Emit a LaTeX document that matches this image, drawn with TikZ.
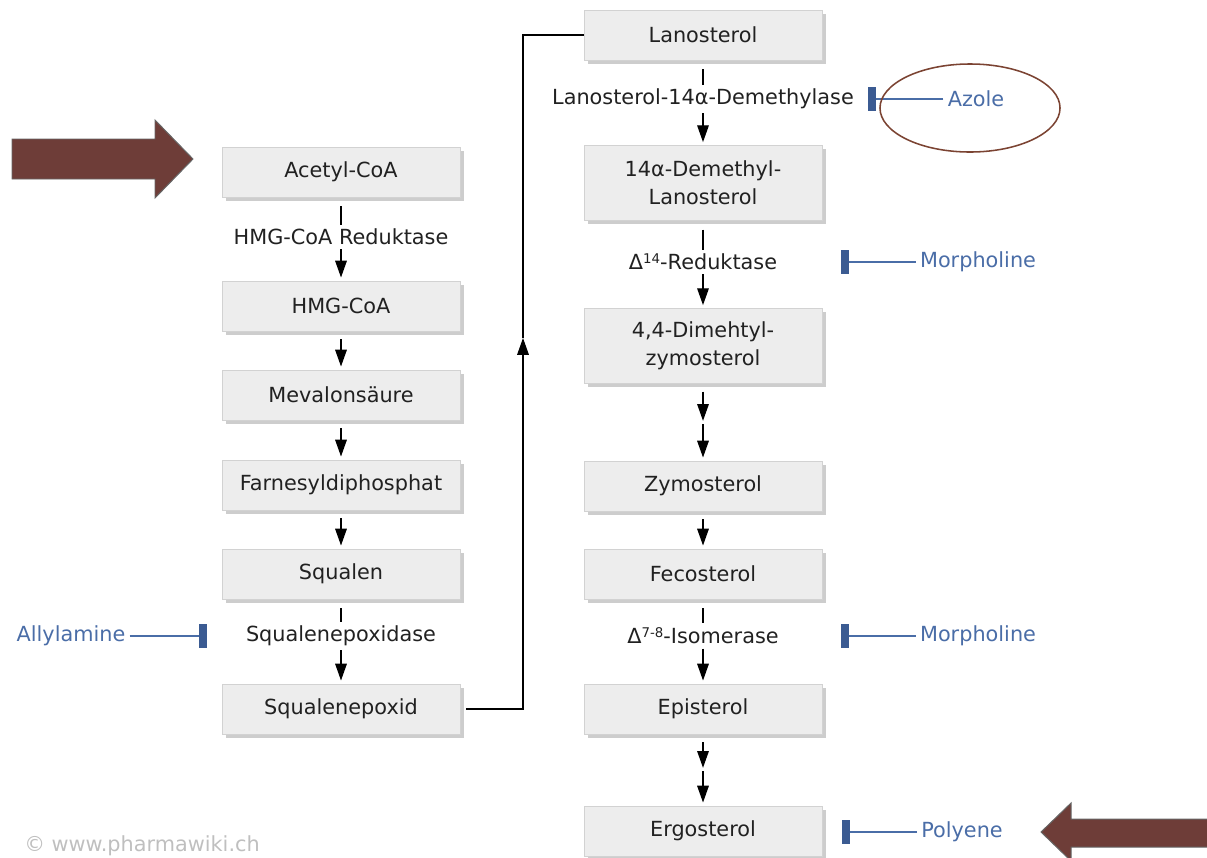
\documentclass[tikz,border=0pt]{standalone}
\usepackage{fontspec}
\setmainfont{DejaVu Sans}
\usepackage{xcolor}
\usetikzlibrary{arrows.meta,shadows}
\definecolor{stoffgrau}{HTML}{EDEDED}
\definecolor{rahmen}{HTML}{D2D2D2}
\definecolor{schatten}{HTML}{CDCDCD}
\definecolor{hemmblau}{HTML}{4A6DA7}
\definecolor{balkenblau}{HTML}{3B5B92}
\definecolor{pfeilbraun}{HTML}{6E3D38}
\definecolor{ringbraun}{HTML}{7B4332}
\newcommand{\hoch}[1]{\raisebox{0.55ex}{\fontsize{9.5}{10}\selectfont #1}}

\begin{document}
\begin{tikzpicture}[x=0.025cm,y=-0.025cm,font=\fontsize{14.8}{20}\selectfont,
  stoff/.style={draw=rahmen,fill=stoffgrau,text=black!87,minimum width=5.95cm,
    minimum height=1.25cm,inner sep=0pt,align=center,
    drop shadow={shadow xshift=0.09cm,shadow yshift=-0.09cm,fill=schatten,opacity=1}},
  enzym/.style={text=black!87,inner sep=0.1cm},
  hemmer/.style={text=hemmblau,inner sep=0.1cm},
  balken/.style={fill=balkenblau,minimum width=0.18cm,minimum height=0.62cm,inner sep=0pt},
  linie/.style={line width=0.9pt,black},
  ab/.style={linie,shorten <=0.22cm},
  fluss/.style={linie,-{Triangle[width=0.29cm,length=0.42cm]},shorten >=0.08cm},
  schritt/.style={fluss,shorten <=0.2cm},
  hemm/.style={hemmblau,line width=0.75pt},
  pfeil/.style={fill=pfeilbraun,draw=black!60,line width=0.7pt}]
  \useasboundingbox (0,0) rectangle (1207,857);

  % linke Spalte
  \node[stoff] (acetyl) at (341,172) {Acetyl-CoA};
  \node[enzym] (hmgred) at (341,237) {HMG-CoA Reduktase};
  \node[stoff] (hmgcoa) at (341,306) {HMG-CoA};
  \node[stoff] (meval) at (341,395) {Mevalonsäure};
  \node[stoff] (farnes) at (341,485) {Farnesyldiphosphat};
  \node[stoff] (squal) at (341,574) {Squalen};
  \node[enzym] (sqepase) at (341,636) {Squalenepoxidase};
  \node[stoff] (sqepox) at (341,709) {Squalenepoxid};
  \draw[ab] (acetyl) -- (hmgred);
  \draw[fluss] (hmgred) -- (hmgcoa);
  \draw[schritt] (hmgcoa) -- (meval);
  \draw[schritt] (meval) -- (farnes);
  \draw[schritt] (farnes) -- (squal);
  \draw[ab] (squal) -- (sqepase);
  \draw[fluss] (sqepase) -- (sqepox);

  % rechte Spalte
  \node[stoff] (lano) at (703,35) {Lanosterol};
  \node[enzym] (demase) at (703,99) {Lanosterol-14α-Demethylase};
  \node[stoff,minimum height=1.87cm] (demlano) at (703,183) {14α-Demethyl-\\Lanosterol};
  \node[enzym] (redukt) at (703,262) {Δ\hoch{14}-Reduktase};
  \node[stoff,minimum height=1.87cm] (dimeth) at (703,346) {4,4-Dimehtyl-\\zymosterol};
  \coordinate (zwi1) at (703,424);
  \node[stoff] (zymo) at (703,486) {Zymosterol};
  \node[stoff] (feco) at (703,574) {Fecosterol};
  \node[enzym] (isom) at (703,636) {Δ\hoch{7-8}-Isomerase};
  \node[stoff] (epi) at (703,709) {Episterol};
  \coordinate (zwi2) at (703,771);
  \node[stoff] (ergo) at (703,831) {Ergosterol};
  \draw[ab] (lano) -- (demase);
  \draw[fluss] (demase) -- (demlano);
  \draw[ab] (demlano) -- (redukt);
  \draw[fluss] (redukt) -- (dimeth);
  \draw[schritt] (dimeth) -- (zwi1);
  \draw[fluss] (zwi1) -- (zymo);
  \draw[schritt] (zymo) -- (feco);
  \draw[ab] (feco) -- (isom);
  \draw[fluss] (isom) -- (epi);
  \draw[schritt] (epi) -- (zwi2);
  \draw[fluss] (zwi2) -- (ergo);

  % Verbindung Squalenepoxid -> Lanosterol
  \coordinate (knick) at (523,338);
  \draw[fluss,shorten <=0.15cm,shorten >=0pt] (sqepox.east) -| (knick);
  \draw[linie] (knick) |- (lano.west);

  % Hemmstoffe
  \node[hemmer] (allyl) at (71,636) {Allylamine};
  \node[balken] (allylbar) at (203,636) {};
  \draw[hemm] (allyl) -- (allylbar);
  \node[hemmer] (azole) at (976,99) {Azole};
  \node[balken] (azolebar) at (872,99) {};
  \draw[hemm] (azole) -- (azolebar);
  \draw[ringbraun,line width=1.1pt] (970,108) ellipse [x radius=2.25cm,y radius=1.1cm];
  \node[hemmer] (morph1) at (978,262) {Morpholine};
  \node[balken] (morph1bar) at (845,262) {};
  \draw[hemm] (morph1) -- (morph1bar);
  \node[hemmer] (morph2) at (978,636) {Morpholine};
  \node[balken] (morph2bar) at (845,636) {};
  \draw[hemm] (morph2) -- (morph2bar);
  \node[hemmer] (polyen) at (962,832) {Polyene};
  \node[balken] (polyenbar) at (846,832) {};
  \draw[hemm] (polyen) -- (polyenbar);

  % grosse Pfeile
  \draw[pfeil] (12,139) -- (155,139) -- (155,120) -- (193,159) -- (155,198) -- (155,179) -- (12,179) -- cycle;
  \draw[pfeil] (1212,819) -- (1071,819) -- (1071,803) -- (1041,832) -- (1071,861) -- (1071,847) -- (1212,847) -- cycle;

  \node[text=black!25] (quelle) at (142,846) {© www.pharmawiki.ch};
\end{tikzpicture}
\end{document}
